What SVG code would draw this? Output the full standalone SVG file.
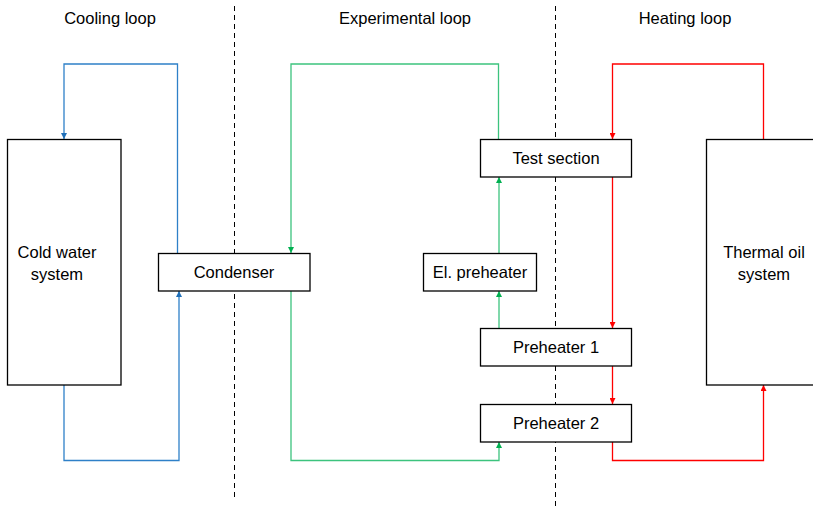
<svg xmlns="http://www.w3.org/2000/svg" width="813" height="510" viewBox="0 0 813 510">
<style>
.box{fill:#fff;stroke:#000;stroke-width:1.3}
.t{font-family:"Liberation Sans",Arial,sans-serif;font-size:16.5px;fill:#000;text-anchor:middle}
.div{stroke:#000;stroke-width:1;stroke-dasharray:5,4;fill:none}
.b{stroke:#2E80C8;stroke-width:1.3;fill:none}
.g{stroke:#3CC37E;stroke-width:1.3;fill:none}
.r{stroke:#FF0000;stroke-width:1.3;fill:none}
</style>
<defs>
<marker id="ab" viewBox="0 0 10 10" refX="10" refY="5" markerWidth="6" markerHeight="6" markerUnits="userSpaceOnUse" orient="auto"><path d="M0,0 L10,5 L0,10 z" fill="#1F6FB8"/></marker>
<marker id="ag" viewBox="0 0 10 10" refX="10" refY="5" markerWidth="6" markerHeight="6" markerUnits="userSpaceOnUse" orient="auto"><path d="M0,0 L10,5 L0,10 z" fill="#00B050"/></marker>
<marker id="ar" viewBox="0 0 10 10" refX="10" refY="5" markerWidth="6" markerHeight="6" markerUnits="userSpaceOnUse" orient="auto"><path d="M0,0 L10,5 L0,10 z" fill="#FF0000"/></marker>
</defs>
<rect width="813" height="510" fill="#fff"/>
<g id="labels">
<text class="t" x="110" y="24">Cooling loop</text>
<text class="t" x="405" y="24">Experimental loop</text>
<text class="t" x="685" y="24">Heating loop</text>
</g>
<g id="dividers">
<line class="div" x1="234.5" y1="6" x2="234.5" y2="497"/>
<line class="div" x1="555.5" y1="6" x2="555.5" y2="510"/>
</g>
<g id="connectors">
<path class="b" d="M177.5,253 V64 H64 V139" marker-end="url(#ab)"/>
<path class="b" d="M64,385 V460.5 H179 V291" marker-end="url(#ab)"/>
<path class="g" d="M498.5,139 V64 H291 V253" marker-end="url(#ag)"/>
<path class="g" d="M291,291 V460.5 H499 V442" marker-end="url(#ag)"/>
<path class="g" d="M499,328 V291" marker-end="url(#ag)"/>
<path class="g" d="M499,253 V177" marker-end="url(#ag)"/>
<path class="r" d="M763.5,139 V64 H612.5 V139" marker-end="url(#ar)"/>
<path class="r" d="M612.5,177 V328" marker-end="url(#ar)"/>
<path class="r" d="M612.5,366 V404" marker-end="url(#ar)"/>
<path class="r" d="M612.5,442 V460.5 H763.5 V385" marker-end="url(#ar)"/>
</g>
<g id="cold-water-system">
<rect class="box" x="7.5" y="139.5" width="113.5" height="245.5"/>
<text class="t" x="57" y="258">Cold water</text>
<text class="t" x="57" y="280">system</text>
</g>
<g id="condenser">
<rect class="box" x="158.5" y="253.5" width="151.5" height="37.5"/>
<text class="t" x="234" y="278">Condenser</text>
</g>
<g id="test-section">
<rect class="box" x="480.5" y="139.5" width="151" height="37.5"/>
<text class="t" x="556" y="164">Test section</text>
</g>
<g id="el-preheater">
<rect class="box" x="423.5" y="253.5" width="113" height="37.5"/>
<text class="t" x="480" y="278">El. preheater</text>
</g>
<g id="preheater-1">
<rect class="box" x="480.5" y="328.5" width="151" height="37.5"/>
<text class="t" x="556" y="353">Preheater 1</text>
</g>
<g id="preheater-2">
<rect class="box" x="480.5" y="404.5" width="151" height="37.5"/>
<text class="t" x="556" y="429">Preheater 2</text>
</g>
<g id="thermal-oil-system">
<rect class="box" x="706.5" y="139.5" width="120" height="245.5"/>
<text class="t" x="764" y="258">Thermal oil</text>
<text class="t" x="764" y="280">system</text>
</g>
</svg>
